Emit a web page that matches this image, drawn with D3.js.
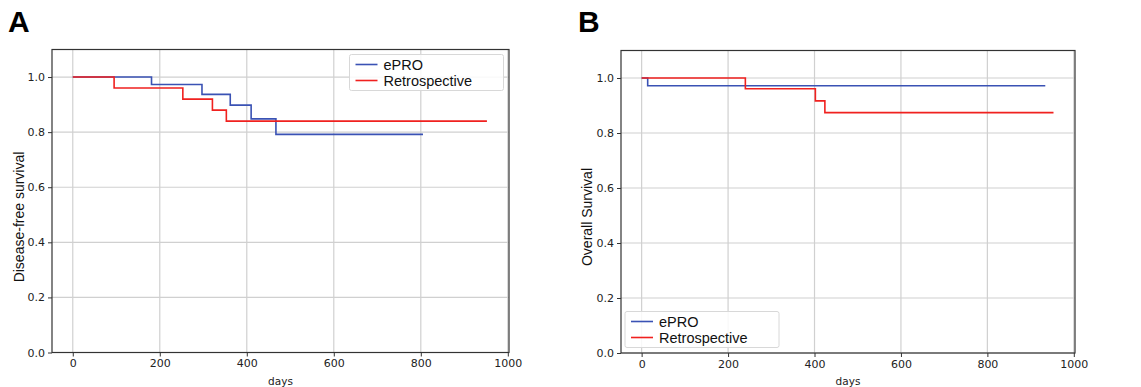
<!DOCTYPE html>
<html>
<head>
<meta charset="utf-8">
<script src="https://cdn.jsdelivr.net/npm/d3@7"></script>
<style>
  body { margin: 0; background: #fff; }
  svg { display: block; }
</style>
</head>
<body>
<div id="chart"></div>
<script>
// step data (days, survival)
var dfsEproDays = [0, 181, 297, 362, 410, 467, 805];
var dfsEproSurv = [1.0, 0.973, 0.937, 0.898, 0.848, 0.792, 0.792];
var dfsRetroDays = [0, 95, 253, 321, 353, 952];
var dfsRetroSurv = [1.0, 0.96, 0.92, 0.88, 0.84, 0.84];

var osEproDays = [0, 14, 934];
var osEproSurv = [1.0, 0.972, 0.972];
var osRetroDays = [0, 240, 402, 424, 953];
var osRetroSurv = [1.0, 0.961, 0.917, 0.874, 0.874];

var xTicks = [0, 200, 400, 600, 800, 1000];
var yTicks = [0, 0.2, 0.4, 0.6, 0.8, 1.0];
var seriesNames = ["ePRO", "Retrospective"];

var blue = "#3a52b4", red = "#f0211f";

var svg = d3.select("#chart").append("svg")
    .attr("width", 1141)
    .attr("height", 387);

function toPts(days, surv) {
    return days.map(function(d, i) { return {x: d, y: surv[i]}; });
}

function panel(opt) {
    var left = opt.left, top = opt.top, w = opt.width, h = opt.height;
    var g = svg.append("g").attr("transform", "translate(" + left + "," + top + ")");

    var x = d3.scaleLinear().domain([-47.75, 1002.75]).range([0, w]);
    var y = d3.scaleLinear().domain([0, 1.1]).range([h, 0]);

    // grid
    g.append("g").selectAll("line.vx").data(xTicks).enter().append("line")
        .attr("x1", function(d) { return x(d); }).attr("x2", function(d) { return x(d); })
        .attr("y1", 0).attr("y2", h)
        .style("stroke", "#d0d0d0").style("stroke-width", 1.2);
    g.append("g").selectAll("line.hy").data(yTicks).enter().append("line")
        .attr("x1", 0).attr("x2", w)
        .attr("y1", function(d) { return y(d); }).attr("y2", function(d) { return y(d); })
        .style("stroke", "#d0d0d0").style("stroke-width", 1.2);

    var line = d3.line()
        .x(function(d) { return x(d.x); })
        .y(function(d) { return y(d.y); })
        .curve(d3.curveStepAfter);

    g.append("path").datum(opt.blue)
        .attr("d", line).style("fill", "none").style("stroke", blue).style("stroke-width", 1.6);
    g.append("path").datum(opt.red)
        .attr("d", line).style("fill", "none").style("stroke", red).style("stroke-width", 1.6);

    // frame
    g.append("rect").attr("width", w).attr("height", h)
        .style("fill", "none").style("stroke", "#333").style("stroke-width", 1.2);

    var xAxis = g.append("g").attr("transform", "translate(0," + h + ")")
        .call(d3.axisBottom(x).tickValues(xTicks).tickSize(4).tickPadding(3).tickFormat(d3.format("d")));
    var yAxis = g.append("g")
        .call(d3.axisLeft(y).tickValues(yTicks).tickSize(4).tickPadding(3).tickFormat(d3.format(".1f")));
    [xAxis, yAxis].forEach(function(a) {
        a.select(".domain").remove();
        a.selectAll("line").style("stroke", "#333");
        a.selectAll("text").style("font-family", "DejaVu Sans").style("font-size", "11px").style("fill", "#222");
    });

    g.append("text")
        .attr("x", w / 2).attr("y", h + 32)
        .attr("text-anchor", "middle")
        .style("font-family", "DejaVu Sans").style("font-size", "10.5px").style("fill", "#222")
        .text("days");

    g.append("text")
        .attr("transform", "translate(" + opt.ylabX + "," + opt.ylabY + ") rotate(-90)")
        .attr("text-anchor", "middle")
        .style("font-family", "Liberation Sans").style("font-size", "14px").style("fill", "#111")
        .text(opt.ylabel);

    svg.append("text")
        .attr("x", opt.letterX).attr("y", 32)
        .style("font-family", "Liberation Sans").style("font-weight", "bold").style("font-size", "30px")
        .text(opt.letter);

    // legend
    var lg = g.append("g").attr("transform", "translate(" + opt.legX + "," + opt.legY + ")");
    lg.append("rect").attr("width", 154).attr("height", 36).attr("rx", 2)
        .style("fill", "#fff").style("fill-opacity", 0.85).style("stroke", "#d8d8d8");
    lg.selectAll("line.k").data(seriesNames).enter().append("line")
        .attr("x1", 6).attr("x2", 28)
        .attr("y1", function(d, i) { return 10 + i * 16; }).attr("y2", function(d, i) { return 10 + i * 16; })
        .style("stroke", function(d, i) { return i === 0 ? blue : red; }).style("stroke-width", 1.6);
    lg.selectAll("text.k").data(seriesNames).enter().append("text")
        .attr("x", 34).attr("y", function(d, i) { return 10 + i * 16; })
        .attr("dy", "0.36em")
        .style("font-family", "Liberation Sans").style("font-size", "14.5px").style("fill", "#111")
        .text(function(d) { return d; });
}

panel({
    left: 52, top: 49.5, width: 457, height: 303,
    blue: toPts(dfsEproDays, dfsEproSurv), red: toPts(dfsRetroDays, dfsRetroSurv),
    ylabel: "Disease-free survival", ylabX: -28.5, ylabY: 167.5, letter: "A", letterX: 8,
    legX: 297.5, legY: 5
});

panel({
    left: 621, top: 50.5, width: 454, height: 302.5,
    blue: toPts(osEproDays, osEproSurv), red: toPts(osRetroDays, osRetroSurv),
    ylabel: "Overall Survival", ylabX: -29, ylabY: 166.5, letter: "B", letterX: 578,
    legX: 4, legY: 261
});
</script>
</body>
</html>
